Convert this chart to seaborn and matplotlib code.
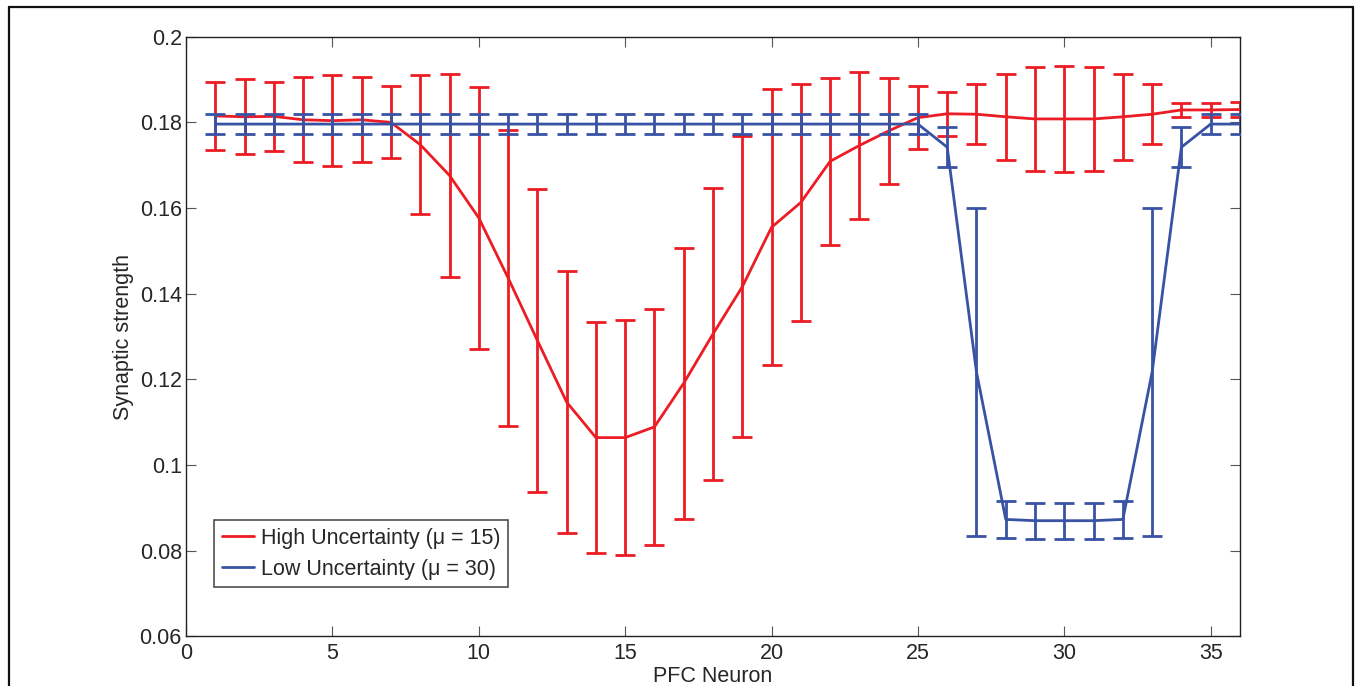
import numpy as np
import pandas as pd
import matplotlib
matplotlib.use("Agg")
import matplotlib.pyplot as plt
import seaborn as sns

# PFC neuron index
neurons = list(range(1, 37))

# high uncertainty (mu = 15): mean and error half-width
high_mean = [0.1815, 0.1813, 0.1814, 0.1806, 0.1804, 0.1806, 0.1800, 0.1748, 0.1676, 0.1577,
             0.1437, 0.1291, 0.1147, 0.1064, 0.1064, 0.1089, 0.1191, 0.1306, 0.1416, 0.1555,
             0.1613, 0.1709, 0.1746, 0.1780, 0.1811, 0.1820, 0.1819, 0.1813, 0.1808, 0.1808,
             0.1808, 0.1813, 0.1819, 0.1829, 0.1829, 0.1830]
high_err = [0.0079, 0.0088, 0.0080, 0.0099, 0.0106, 0.0099, 0.0084, 0.0162, 0.0237, 0.0306,
            0.0346, 0.0353, 0.0306, 0.0270, 0.0274, 0.0276, 0.0316, 0.0341, 0.0351, 0.0322,
            0.0276, 0.0195, 0.0172, 0.0123, 0.0074, 0.0052, 0.0070, 0.0101, 0.0122, 0.0123,
            0.0122, 0.0101, 0.0070, 0.0017, 0.0016, 0.0017]

# low uncertainty (mu = 30)
low_mean = [0.1796] * 25 + [0.1742, 0.1217, 0.0873, 0.0870, 0.0870, 0.0870, 0.0873, 0.1217,
                            0.1742, 0.1796, 0.1796]
low_err = [0.0023] * 25 + [0.0047, 0.0383, 0.0044, 0.0042, 0.0042, 0.0042, 0.0044, 0.0383,
                           0.0047, 0.0023, 0.0023]

labels = ["High Uncertainty (\u03bc = 15)", "Low Uncertainty (\u03bc = 30)"]
colors = ["#ED1C24", "#3953A4"]

sns.set_theme(style="white")
plt.rcParams["font.family"] = ["Liberation Sans", "DejaVu Sans"]

df = pd.concat([
    pd.DataFrame({"neuron": neurons, "strength": high_mean, "err": high_err, "group": labels[0]}),
    pd.DataFrame({"neuron": neurons, "strength": low_mean, "err": low_err, "group": labels[1]}),
])

fig = plt.figure(figsize=(13.55, 6.86), dpi=100)
ax = fig.add_axes([0.1373, 0.0724, 0.9151 - 0.1373, 0.9465 - 0.0724])

sns.lineplot(data=df, x="neuron", y="strength", hue="group", palette=colors,
             linewidth=2.0, ax=ax, zorder=3)

for i, lab in enumerate(labels):
    sub = df[df["group"] == lab]
    ax.errorbar(sub["neuron"], sub["strength"], yerr=sub["err"], fmt="none",
                ecolor=colors[i], elinewidth=2.0, capsize=7.2, capthick=2.0,
                zorder=2 + 2 * i)

ax.set_xlim(0, 36)
ax.set_ylim(0.06, 0.2)
ax.set_xticks([0, 5, 10, 15, 20, 25, 30, 35])
ax.set_yticks([0.06, 0.08, 0.1, 0.12, 0.14, 0.16, 0.18, 0.2])
ax.set_yticklabels(["0.06", "0.08", "0.1", "0.12", "0.14", "0.16", "0.18", "0.2"])
ax.tick_params(direction="in", length=7, width=0.8, color="#555555", labelsize=15.5,
               top=True, right=True, bottom=True, left=True, pad=5)
ax.tick_params(axis="y", pad=3)
for s in ax.spines.values():
    s.set_color("#222222")
    s.set_linewidth(1.0)

ax.set_xlabel("PFC Neuron", fontsize=15.5, labelpad=1)
ax.set_ylabel("Synaptic strength", fontsize=15.5, labelpad=4)

leg = ax.legend(loc="lower left", bbox_to_anchor=(0.027, 0.082), fontsize=15.5,
                frameon=True, fancybox=False, handlelength=1.5, handletextpad=0.3,
                borderpad=0.35, labelspacing=0.45, borderaxespad=0)
leg.get_frame().set_edgecolor("#222222")
leg.get_frame().set_linewidth(1.2)

# outer frame (open at the bottom)
for xs, ys in [([0.0063, 0.0063], [0.0, 0.9898]),
               ([0.0063, 0.9985], [0.9898, 0.9898]),
               ([0.9985, 0.9985], [0.9898, 0.0])]:
    fig.add_artist(plt.Line2D(xs, ys, color="#111111", linewidth=1.6))

fig.savefig("out.png", dpi=100)
